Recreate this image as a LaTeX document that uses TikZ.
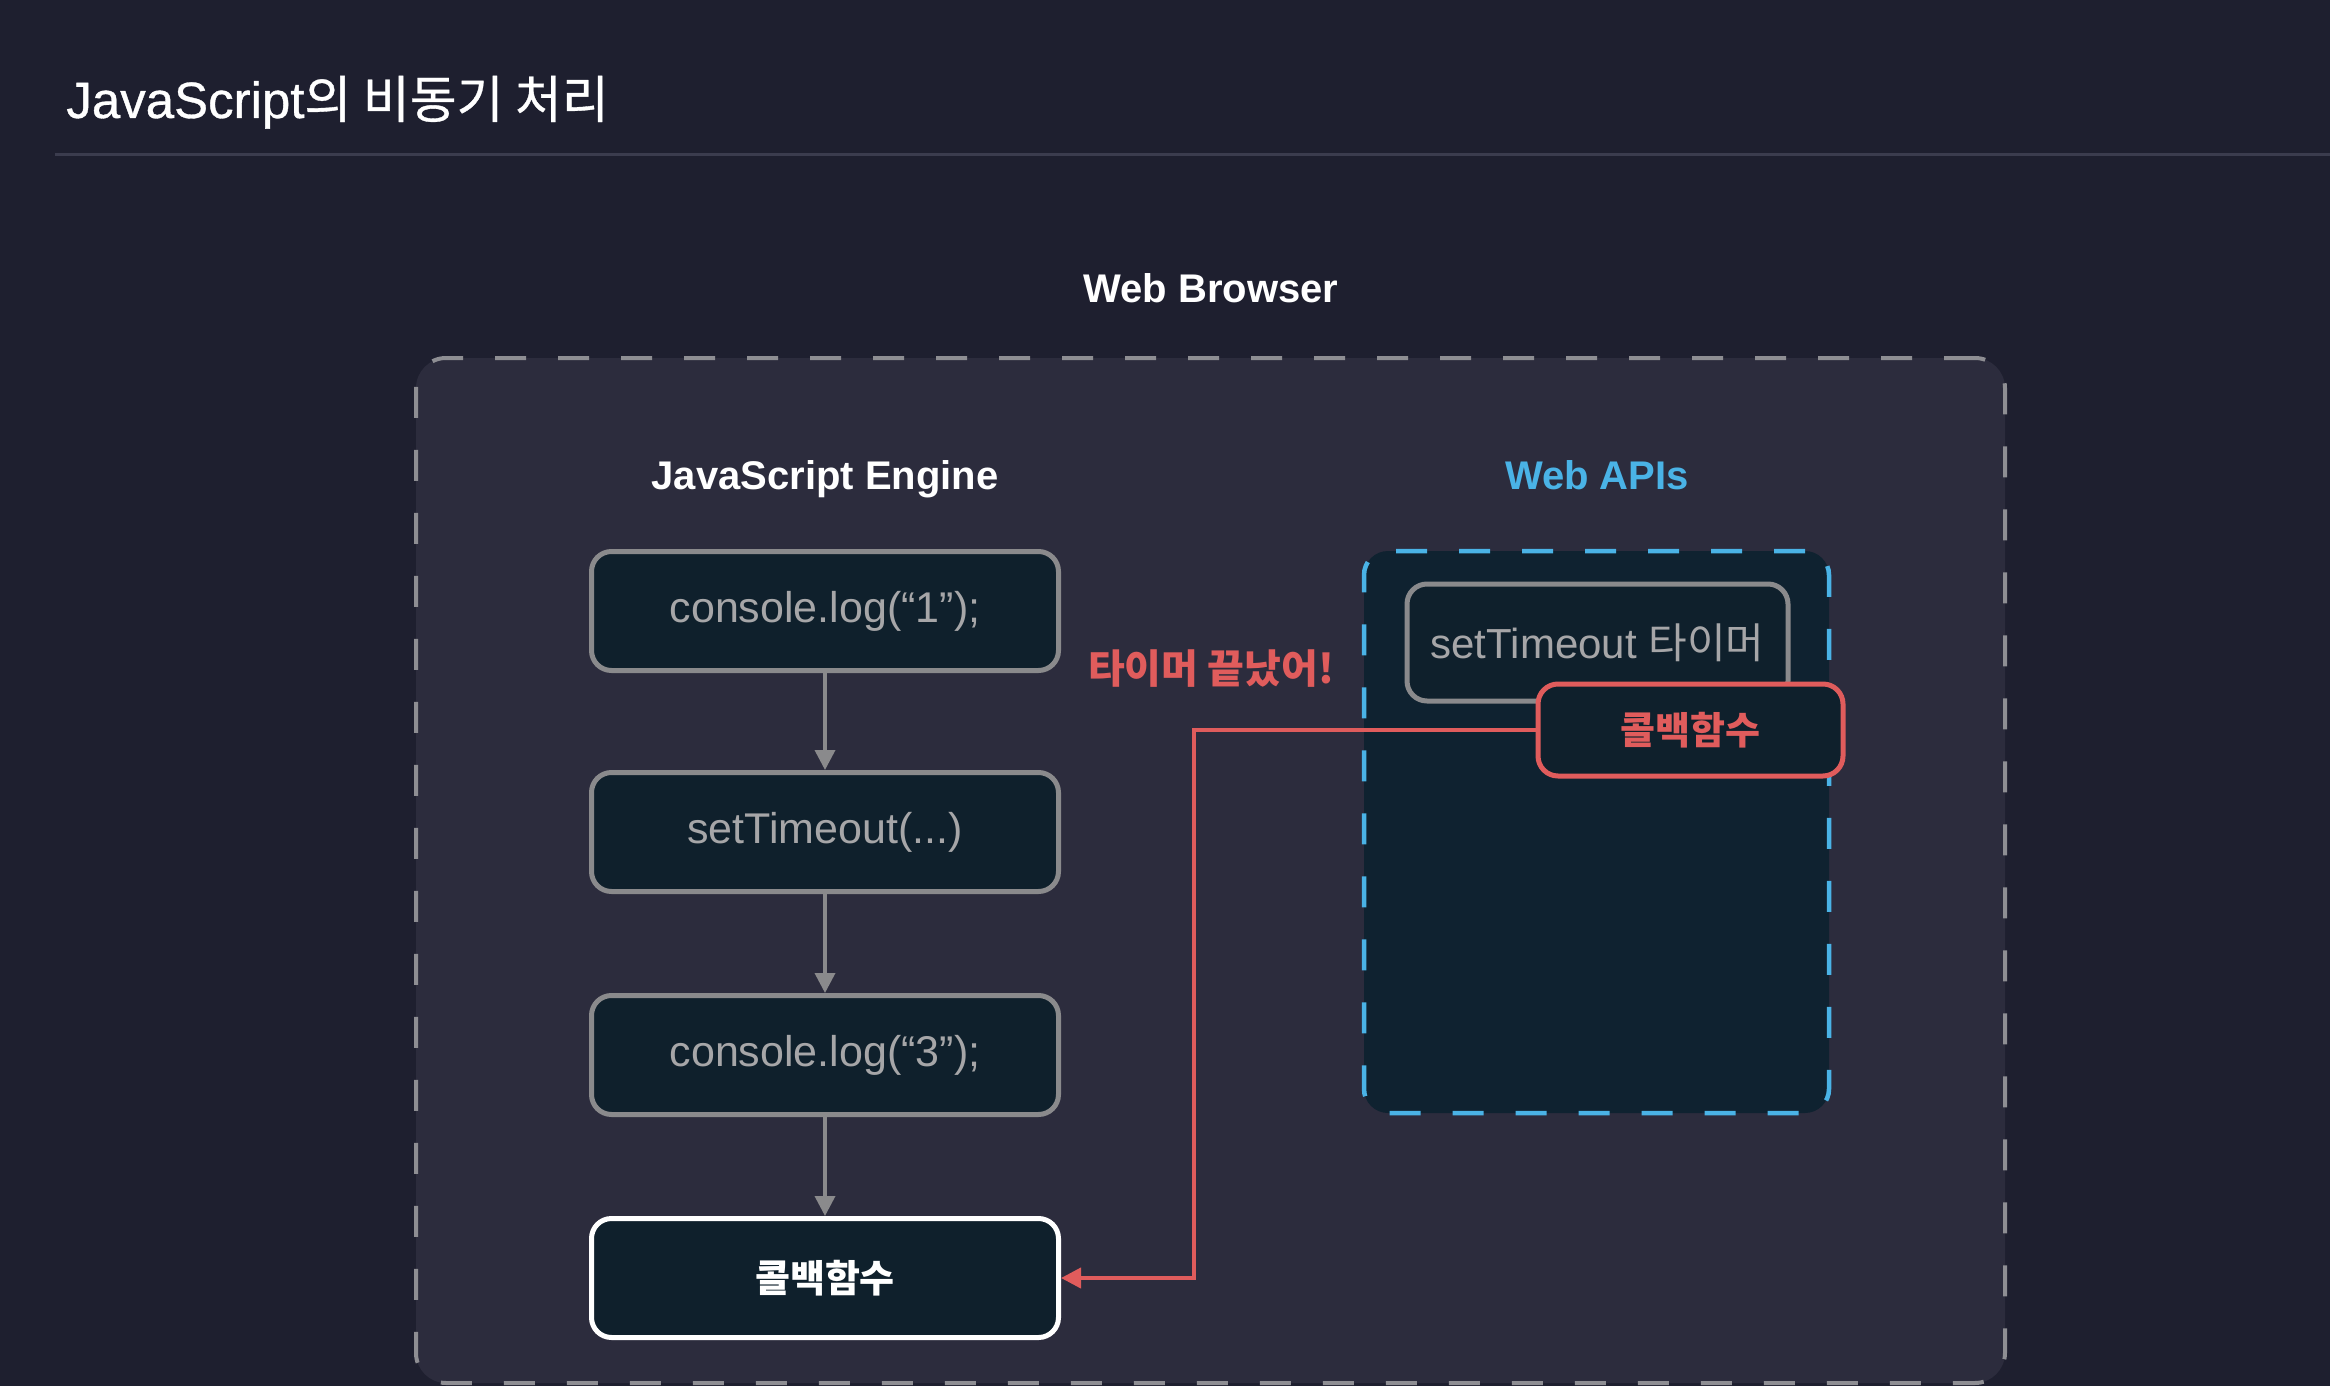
\documentclass[tikz,border=0pt]{standalone}
\usepackage{fontspec}
\setmainfont{Liberation Sans}
\newfontfamily\krfont{Noto Sans CJK KR}
\newfontfamily\titlefont[FakeBold=0.7]{Liberation Sans}
\newfontfamily\titlekr[FakeBold=0.7]{Noto Sans CJK KR}
\newcommand\KR[1]{{\krfont #1}}
\usetikzlibrary{arrows.meta}
\definecolor{bgc}{HTML}{1E1F2F}
\definecolor{sepc}{HTML}{3B3C4E}
\definecolor{panelc}{HTML}{2C2C3D}
\definecolor{dashc}{HTML}{8E8E93}
\definecolor{boxc}{HTML}{0F202C}
\definecolor{apic}{HTML}{0F2230}
\definecolor{bordc}{HTML}{8A8A8C}
\definecolor{greyt}{HTML}{A6A6A8}
\definecolor{bluec}{HTML}{4AB3E6}
\definecolor{redc}{HTML}{E05C5C}
\tikzset{
  headtxt/.style={text=white, font=\fontsize{20}{24}\selectfont\bfseries, inner sep=0pt},
  codebox/.style={rectangle, rounded corners=10pt, fill=boxc, draw=bordc, line width=2.5pt,
    minimum width=233.5pt, minimum height=59.5pt, text=greyt, font=\fontsize{21.5}{26}\selectfont, inner sep=0pt},
  cbbox/.style={codebox, draw=white, text=white, font=\fontsize{19}{24}\selectfont\krfont\bfseries},
  garrow/.style={draw=bordc, line width=1.8pt, -{Triangle[length=10pt,width=10pt]}},
  rarrow/.style={draw=redc, line width=2pt, -{Triangle[length=10pt,width=10pt]}},
  dashpat/.style={dash pattern=on 15.5pt off 16pt, line width=2pt}
}
\begin{document}
\begin{tikzpicture}[x=0.5pt,y=-0.5pt]
\fill[bgc] (0,0) rectangle (2330,1386);
\useasboundingbox (0,0) rectangle (2330,1386);
% title
\node[anchor=base west, inner sep=0pt, text=white, font=\fontsize{25.5}{30}\selectfont\titlefont] (title) at (66,118) {JavaScript{\titlekr 의 비동기 처리}};
\draw[sepc, line width=1.5pt] (55,155) -- (2330,155);
% web browser
\node[headtxt, anchor=base] (wbl) at (1211,302) {Web Browser};
\node[rectangle, rounded corners=15pt, fill=panelc, draw=dashc, dashpat,
  minimum width=794.5pt, minimum height=512.5pt, inner sep=0pt] (browser) at (1210.5,870.5) {};
\node[headtxt, anchor=base] (jse) at (825,489) {JavaScript Engine};
\node[headtxt, anchor=base, text=bluec] (wapi) at (1597,489) {Web APIs};
% engine boxes
\node[codebox] (b1) at (825,611) {console.log(“1”);};
\node[codebox] (b2) at (825,832) {setTimeout(...)};
\node[codebox] (b3) at (825,1055) {console.log(“3”);};
\node[cbbox] (b4) at (825,1278) {콜백함수};
\draw[garrow] (b1.south) -- (b2.north);
\draw[garrow] (b2.south) -- (b3.north);
\draw[garrow] (b3.south) -- (b4.north);
% web apis
\node[rectangle, rounded corners=12pt, fill=apic, draw=bluec, dashpat, line width=2.25pt,
  minimum width=232.5pt, minimum height=281pt, inner sep=0pt] (apis) at (1596.5,832) {};
\node[codebox, minimum width=190.5pt, minimum height=58.5pt, font=\fontsize{21}{25}\selectfont] (timer) at (1597.5,642.5) {setTimeout \KR{타이머}};
\node[codebox, draw=redc, text=redc, minimum width=152.5pt, minimum height=46pt,
  font=\fontsize{19}{24}\selectfont\krfont\bfseries] (cbr) at (1690.5,730) {콜백함수};
\node[inner sep=0pt, text=redc, font=\fontsize{20}{24}\selectfont\krfont\bfseries] (done) at (1211,669) {타이머 끝났어!};
\draw[rarrow] (cbr.west) -- ++(-342,0) |- (b4.east);
\end{tikzpicture}
\end{document}
